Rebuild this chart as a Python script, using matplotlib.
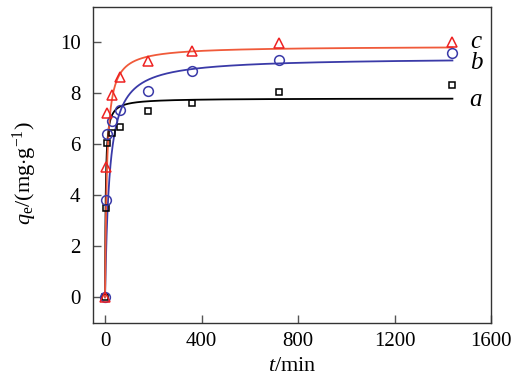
import numpy as np
import matplotlib
matplotlib.use("Agg")
import matplotlib.pyplot as plt

plt.rcParams['font.family'] = ['Liberation Serif', 'DejaVu Serif']
plt.rcParams['mathtext.fontset'] = 'custom'
plt.rcParams['mathtext.rm'] = 'Liberation Serif'
plt.rcParams['mathtext.it'] = 'Liberation Serif:italic'

t = [0, 5, 10, 30, 60, 180, 360, 720, 1440]
q_a = [0, 3.5, 6.05, 6.45, 6.67, 7.32, 7.62, 8.05, 8.34]
q_b = [0, 3.8, 6.4, 6.9, 7.36, 8.08, 8.86, 9.29, 9.58]
q_c = [0, 5.12, 7.23, 7.92, 8.64, 9.28, 9.67, 9.97, 10.0]

# pseudo-second-order fit parameters (qe, k)
fit_a = (7.805, 0.0478)
fit_b = (9.408, 0.00581)
fit_c = (9.852, 0.0132)

series = [
    ('a', q_a, fit_a, 's', 5.0, 'black', 'black'),
    ('b', q_b, fit_b, 'o', 7.0, '#3a3aa8', '#3a3aa8'),
    ('c', q_c, fit_c, '^', 7.5, '#ee2222', '#f05a3a'),
]

fig = plt.figure(figsize=(5.26, 3.85), dpi=100)
ax = fig.add_axes([0.1768, 0.1618, 0.7567, 0.8208])

tt = np.linspace(0, 1440, 2000)
for name, q, (qe, k), m, ms, mc, lc in series:
    qfit = k * qe**2 * tt / (1 + k * qe * tt)
    ax.plot(tt, qfit, color=lc, lw=1.3, zorder=2)
    ax.plot(t, q, linestyle='none', marker=m, markersize=ms,
            markerfacecolor='none', markeredgecolor=mc, markeredgewidth=1.1, zorder=3)

label_pos = {'a': (1510, 7.75), 'b': (1512, 9.2), 'c': (1512, 10.0)}
for name, (x, y) in label_pos.items():
    ax.text(x, y, name, fontsize=18, style='italic', ha='left', va='center')

ax.set_xlim(-50, 1600)
ax.set_ylim(-1, 11.4)
ax.set_xticks([0, 400, 800, 1200, 1600])
ax.set_yticks([0, 2, 4, 6, 8, 10])
ax.tick_params(direction='in', length=6, width=1, labelsize=15, color='#555555')
ax.tick_params(axis='y', pad=9)
ax.tick_params(axis='x', pad=7)
for s in ax.spines.values():
    s.set_color('#333333')
    s.set_linewidth(1.0)

ax.set_xlabel(r'$\mathit{t}$/min', fontsize=16, labelpad=4)
ax.set_ylabel(r'$\mathit{q}_\mathrm{e}$/(mg$\cdot$g$^{-1}$)', fontsize=16)
ax.yaxis.set_label_coords(-0.135, 0.474)

fig.savefig('out.png', dpi=100)
